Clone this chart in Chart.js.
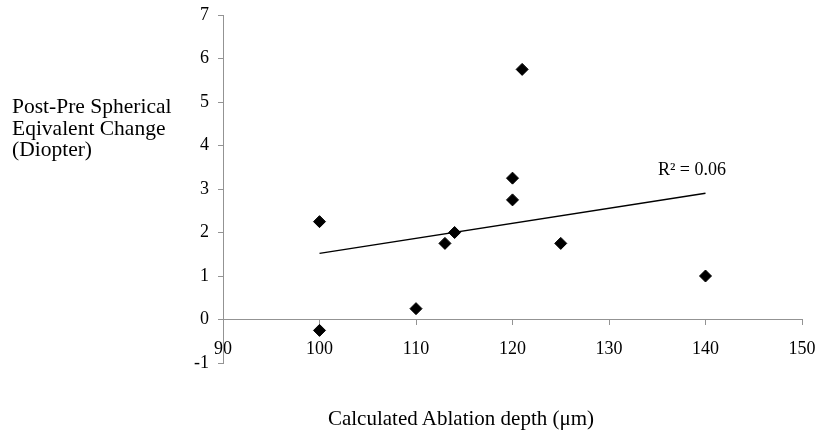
<!DOCTYPE html>
<html lang="en">
<head>
  <meta charset="UTF-8">
  <title>Ablation depth vs spherical equivalent change</title>
  <script src="https://cdn.jsdelivr.net/npm/chart.js@4.4.1/dist/chart.umd.min.js"></script>
  <style>
    body { margin: 0; background: #fff; font-family: "Liberation Serif", "Times New Roman", serif; }
    #wrap { position: relative; width: 816px; height: 431px; }
    .ytitle { position: absolute; left: 12px; top: 96px; font-size: 21.5px; line-height: 21.5px; color: #000; white-space: nowrap; }
    .xtitle { position: absolute; left: 261px; width: 400px; top: 405px; text-align: center; font-size: 21px; line-height: 26px; color: #000; }
  </style>
</head>
<body>
  <div id="wrap">
    <canvas id="chart" width="816" height="431"></canvas>
    <div class="ytitle">Post-Pre Spherical<br>Eqivalent Change<br>(Diopter)</div>
    <div class="xtitle">Calculated Ablation depth (&mu;m)</div>
  </div>

  <script>
    // values
    const depthX = [100, 100, 110, 113, 114, 120, 120, 121, 125, 140];
    const changeY = [2.25, -0.25, 0.25, 1.75, 2.0, 3.25, 2.75, 5.75, 1.75, 1.0];
    const trendX = [100, 140];
    const trendY = [1.52, 2.9];
    const r2Label = 'R² = 0.06';
    const r2At = { x: 138.6, y: 3.43 };

    const axisGray = '#939393';
    const serif = '"Liberation Serif", "Times New Roman", serif';

    const r2Plugin = {
      id: 'r2text',
      afterDatasetsDraw(chart) {
        const { ctx, scales } = chart;
        ctx.save();
        ctx.font = '18px ' + serif;
        ctx.fillStyle = '#000';
        ctx.textAlign = 'center';
        ctx.textBaseline = 'middle';
        ctx.fillText(r2Label, scales.x.getPixelForValue(r2At.x), scales.y.getPixelForValue(r2At.y));
        ctx.restore();
      }
    };

    new Chart(document.getElementById('chart'), {
      type: 'scatter',
      data: {
        datasets: [
          {
            label: 'Change',
            data: depthX.map((x, i) => ({ x: x, y: changeY[i] })),
            pointStyle: 'rectRot',
            pointRadius: 6,
            pointBackgroundColor: '#000',
            pointBorderColor: '#000',
            pointBorderWidth: 1
          },
          {
            label: 'Trend',
            type: 'line',
            data: trendX.map((x, i) => ({ x: x, y: trendY[i] })),
            borderColor: '#000',
            borderWidth: 1.5,
            pointRadius: 0,
            fill: false
          }
        ]
      },
      options: {
        responsive: false,
        animation: false,
        layout: { padding: { top: 15, right: 14, bottom: 68, left: 0 } },
        plugins: { legend: { display: false }, tooltip: { enabled: false } },
        scales: {
          x: {
            type: 'linear',
            position: { y: 0 },
            min: 90, max: 150,
            afterFit(scale) { scale.paddingLeft = 0; scale.paddingRight = 0; },
            ticks: { stepSize: 10, color: '#000', font: { family: serif, size: 18 }, padding: 14 },
            grid: { drawOnChartArea: false, drawTicks: true, tickLength: 5, color: axisGray },
            border: { display: true, color: axisGray, width: 1 }
          },
          y: {
            min: -1, max: 7,
            afterFit(scale) { scale.width = 223; scale.paddingTop = 0; scale.paddingBottom = 0; },
            ticks: { stepSize: 1, color: '#000', font: { family: serif, size: 18 }, padding: 9 },
            grid: { drawOnChartArea: false, drawTicks: true, tickLength: 5, color: axisGray },
            border: { display: true, color: axisGray, width: 1 }
          }
        }
      },
      plugins: [r2Plugin]
    });
  </script>
</body>
</html>
